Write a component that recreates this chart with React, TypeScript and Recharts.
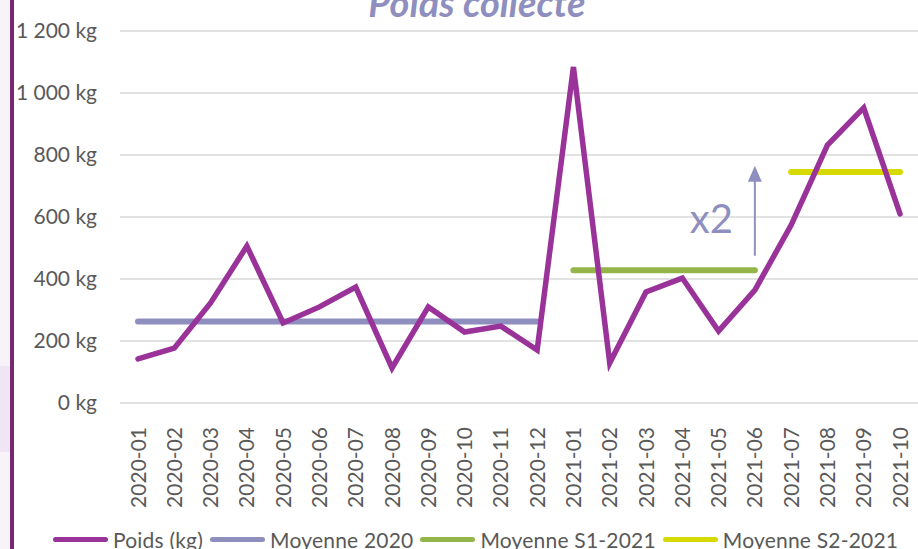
import { LineChart, Line, XAxis, YAxis, CartesianGrid, ReferenceLine, ReferenceDot } from 'recharts'

const FONT = 'Lato, "Open Sans", sans-serif'

const MONTHS = ['2020-01','2020-02','2020-03','2020-04','2020-05','2020-06','2020-07','2020-08','2020-09','2020-10','2020-11','2020-12',
  '2021-01','2021-02','2021-03','2021-04','2021-05','2021-06','2021-07','2021-08','2021-09','2021-10']
const POIDS = [142, 177, 323, 506, 258, 310, 374, 113, 310, 229, 248, 171,
  1084, 129, 358, 403, 232, 364, 574, 832, 952, 610]
const MOY_2020 = 263
const MOY_S1_2021 = 428
const MOY_S2_2021 = 745
const Y_TICKS = [0, 200, 400, 600, 800, 1000, 1200]

const data = MONTHS.map((m, i) => ({
  month: m,
  poids: POIDS[i],
  m2020: m.startsWith('2020') ? MOY_2020 : null,
  s1: m >= '2021-01' && m <= '2021-06' ? MOY_S1_2021 : null,
  s2: m >= '2021-07' ? MOY_S2_2021 : null,
}))

const LEGEND = [
  { name: 'Poids (kg)', color: '#993399' },
  { name: 'Moyenne 2020', color: '#8f8fbf' },
  { name: 'Moyenne S1-2021', color: '#93b54a' },
  { name: 'Moyenne S2-2021', color: '#d6da00' },
]

const fmt = (v: number) => `${v.toLocaleString('fr-FR').replace(/\s/g, ' ')} kg`

function XTick({ x, y, payload }: any) {
  return (
    <g transform={`translate(${x},${y})`}>
      <text transform="rotate(-90)" x={-16} y={0} dy="0.36em" textAnchor="end"
        fill="#595959" fontSize={21} fontFamily={FONT}>{payload.value}</text>
    </g>
  )
}

const arrowHead = (p: any) => (
  <polygon points={`${p.cx},${p.cy} ${p.cx - 7},${p.cy + 16} ${p.cx + 7},${p.cy + 16}`} fill="#8f8fbf" />
)
const x2Label = (p: any) => (
  <text x={p.cx - 22} y={p.cy} textAnchor="end" fill="#8f8fbf" fontSize={40} fontFamily={FONT}>x2</text>
)

export default function App() {
  return (
    <div style={{ position: 'absolute', left: 0, top: 0, width: 918, height: 549, overflow: 'hidden', background: '#fff', fontFamily: FONT }}>
      <div style={{ position: 'absolute', left: 0, top: 0, width: 10, height: 549, background: '#f7f3f9' }} />
      <div style={{ position: 'absolute', left: 0, top: 366, width: 10, height: 86, background: '#efe5f3' }} />
      <div style={{ position: 'absolute', left: 10, top: 0, width: 4, height: 549, background: '#772871' }} />
      <div style={{ position: 'absolute', left: 0, width: 918, top: -18, textAlign: 'center', paddingLeft: 36, boxSizing: 'border-box',
        fontSize: 38, fontWeight: 700, fontStyle: 'italic', color: '#8f8fbf', lineHeight: '40px' }}>
        Poids collecté
      </div>
      <div style={{ position: 'absolute', left: 0, top: 0 }}>
        <LineChart width={918} height={549} data={data} margin={{ top: 31, right: 0, bottom: 0, left: 0 }}>
          <CartesianGrid vertical={false} stroke="#d9d9d9" strokeWidth={1.5} />
          <XAxis dataKey="month" height={146} interval={0} tickLine={false} axisLine={false} tick={<XTick />}
            padding={{ left: 18, right: 18 }} />
          <YAxis domain={[0, 1200]} ticks={Y_TICKS} width={120} tickLine={false} axisLine={false} tickSize={0} tickMargin={23}
            tickFormatter={fmt} tick={{ fill: '#595959', fontSize: 21, fontFamily: FONT }} />
          <Line dataKey="m2020" stroke="#8f8fbf" strokeWidth={6} strokeLinecap="round" dot={false} isAnimationActive={false} />
          <Line dataKey="s1" stroke="#93b54a" strokeWidth={6} strokeLinecap="round" dot={false} isAnimationActive={false} />
          <Line dataKey="s2" stroke="#d6da00" strokeWidth={6} strokeLinecap="round" dot={false} isAnimationActive={false} />
          <Line dataKey="poids" stroke="#993399" strokeWidth={5.5} strokeLinecap="round" dot={false} isAnimationActive={false} />
          <ReferenceLine segment={[{ x: '2021-06', y: 475 }, { x: '2021-06', y: 730 }]} stroke="#8f8fbf" strokeWidth={2} />
          <ReferenceDot x="2021-06" y={765} r={0} shape={arrowHead} />
          <ReferenceDot x="2021-06" y={550} r={0} shape={x2Label} />
        </LineChart>
      </div>
      <div style={{ position: 'absolute', left: 53, top: 527, display: 'flex', alignItems: 'center', fontSize: 21, color: '#595959', whiteSpace: 'nowrap' }}>
        {LEGEND.map(l => (
          <div key={l.name} style={{ display: 'flex', alignItems: 'center', marginRight: 7 }}>
            <div style={{ width: 55, height: 5, borderRadius: 3, background: l.color, marginRight: 5 }} />
            <span style={{ letterSpacing: 0.2 }}>{l.name}</span>
          </div>
        ))}
      </div>
    </div>
  )
}
